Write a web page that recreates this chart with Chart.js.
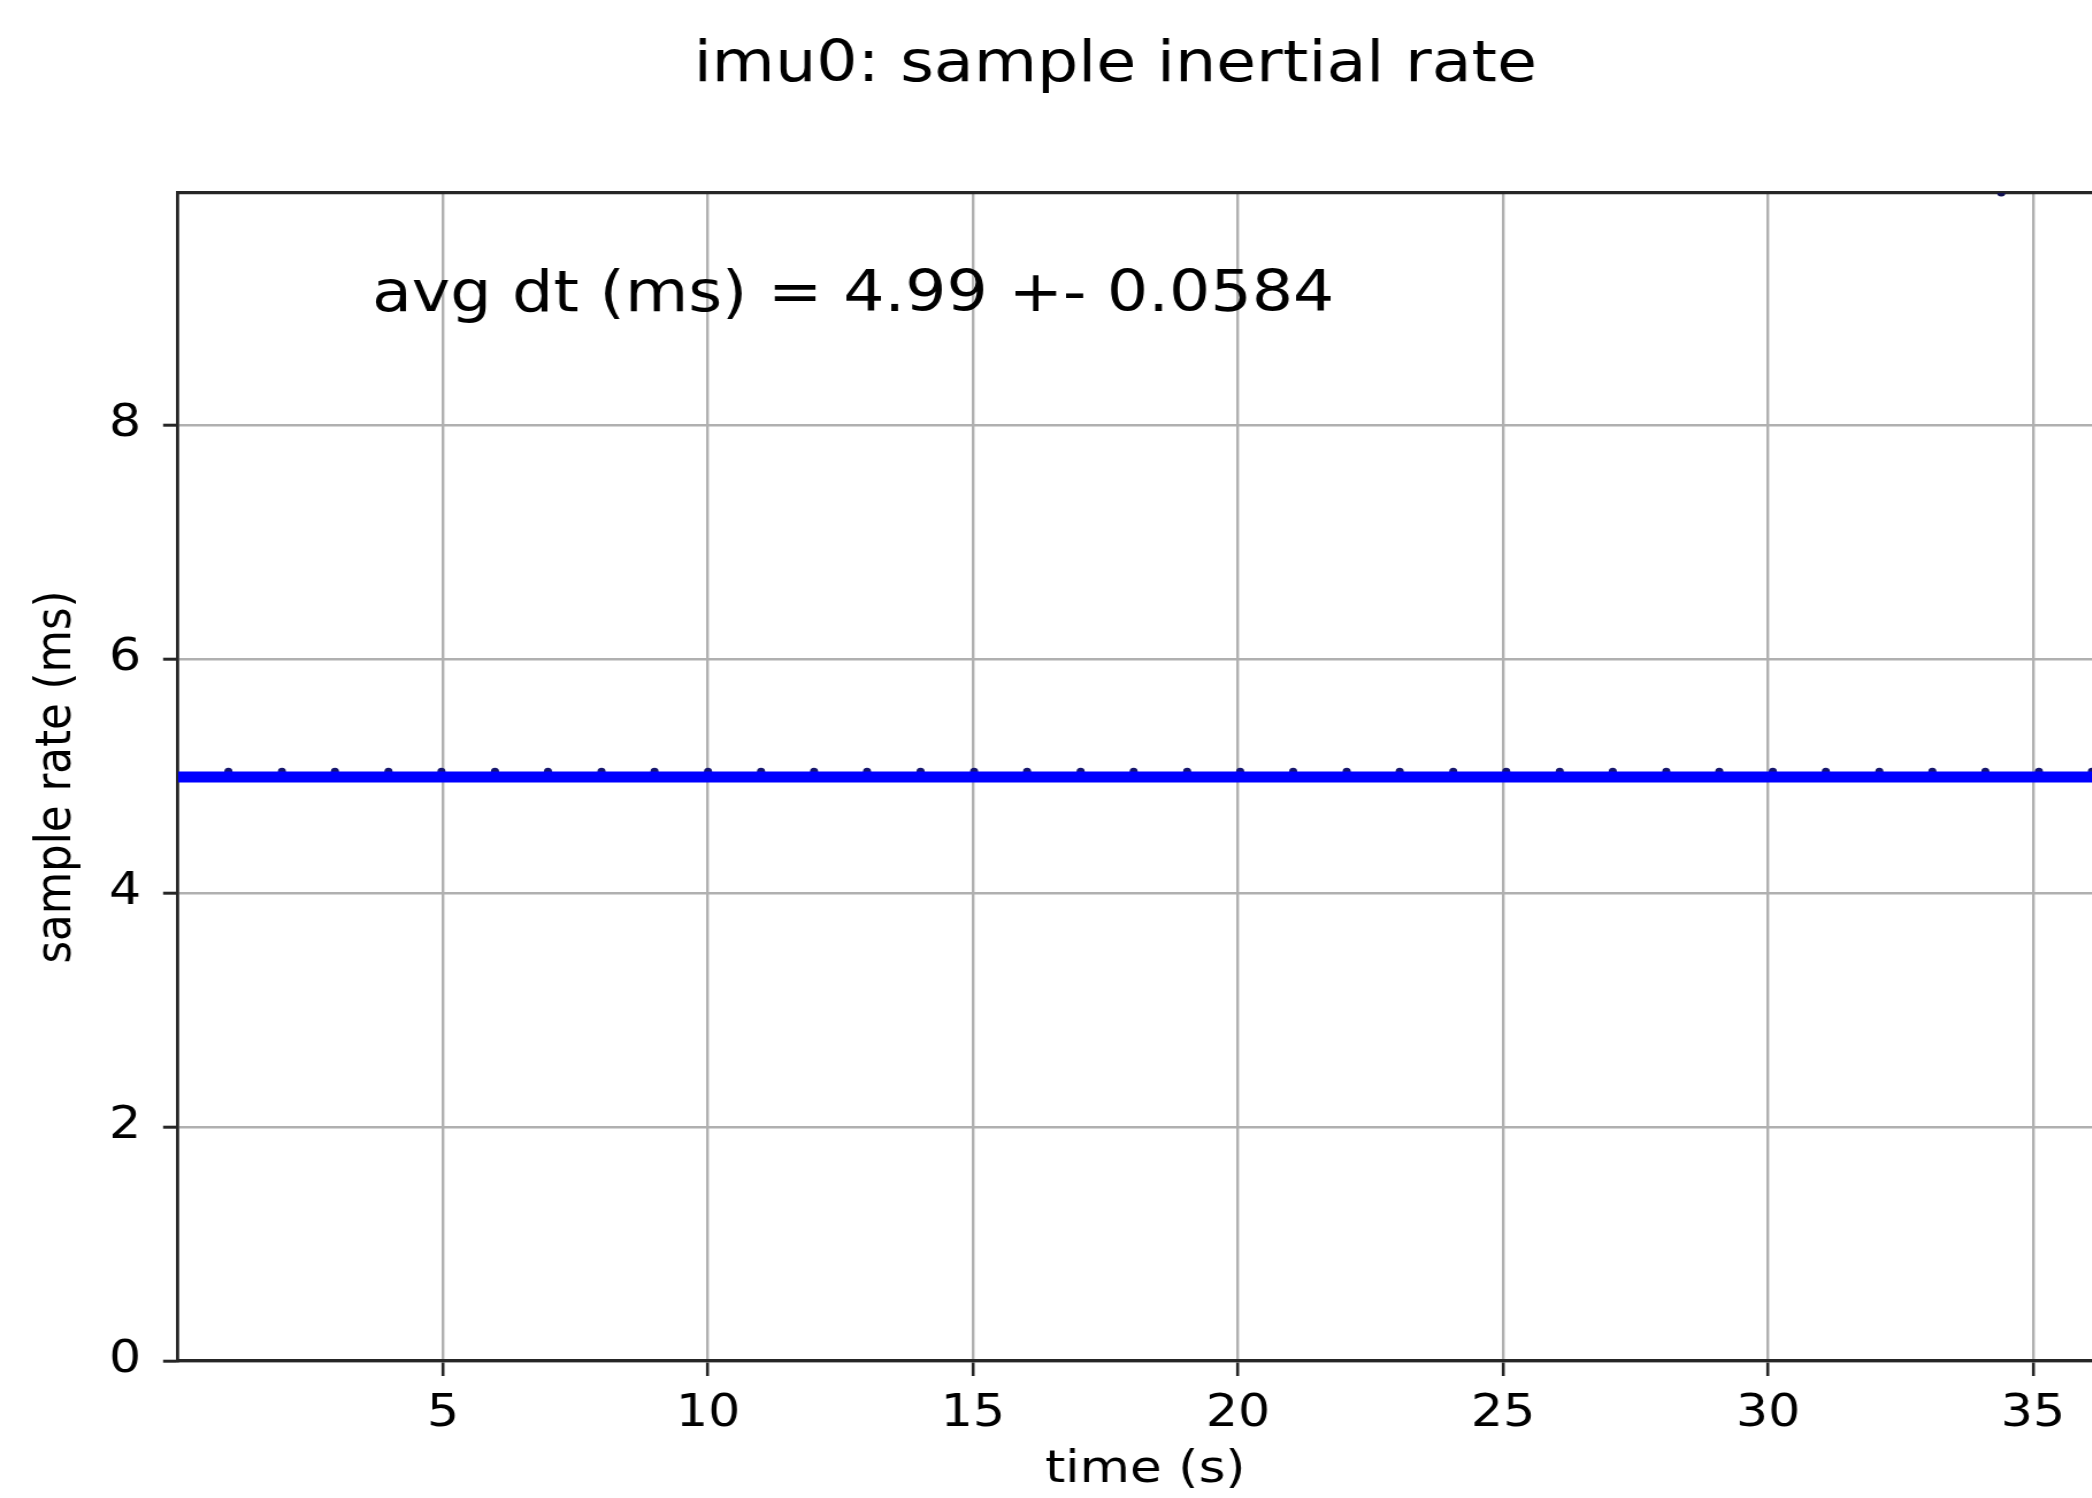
<!DOCTYPE html>
<html>
<head>
<meta charset="utf-8">
<title>imu0: sample inertial rate</title>
<script src="https://cdn.jsdelivr.net/npm/chart.js@4.4.0/dist/chart.umd.min.js"></script>
<style>
  html, body { margin: 0; padding: 0; background: #fff; overflow: hidden; }
  #wrap { width: 2092px; height: 1498px; overflow: hidden; }
  /* the source figure is stretched sideways, so the canvas is too */
  #myChart { display: block; transform: scaleX(1.15); transform-origin: 0 0; }
</style>
</head>
<body>
<div id="wrap"><canvas id="myChart" width="1939" height="1498"></canvas></div>
<script>
// dense 200 Hz samples, drawn as one thick line at the mean
var baseTime = [0.0, 36.5];
var baseRate = [4.99, 4.99];

// slightly longer dt once per second
var bumpTime = [0.95, 1.96, 2.96, 3.97, 4.97, 5.98, 6.98, 7.99, 8.99, 10.0,
                11.0, 12.0, 13.0, 14.01, 15.02, 16.02, 17.03, 18.03, 19.04, 20.04,
                21.04, 22.05, 23.05, 24.06, 25.06, 26.07, 27.07, 28.08, 29.08, 30.09,
                31.09, 32.1, 33.1, 34.1, 35.11, 36.11];
var bumpRate = [5.04, 5.04, 5.04, 5.04, 5.04, 5.04, 5.04, 5.04, 5.04, 5.04,
                5.04, 5.04, 5.04, 5.04, 5.04, 5.04, 5.04, 5.04, 5.04, 5.04,
                5.04, 5.04, 5.04, 5.04, 5.04, 5.04, 5.04, 5.04, 5.04, 5.04,
                5.04, 5.04, 5.04, 5.04, 5.04, 5.04];

// one dropped sample
var dropTime = [34.4];
var dropRate = [9.98];

var xTicks = [5, 10, 15, 20, 25, 30, 35];
var yTicks = [0, 2, 4, 6, 8];

var titleText = 'imu0: sample inertial rate';
var noteText = 'avg dt (ms) = 4.99 +- 0.0584';

function toPoints(xs, ys) {
    var pts = [];
    for (var i = 0; i < xs.length; i++) {
        pts.push({ x: xs[i], y: ys[i] });
    }
    return pts;
}

Chart.defaults.font.family = '"DejaVu Sans", sans-serif';
Chart.defaults.color = '#000';

var axisColor = '#262626';
var gridColor = '#b0b0b0';

// annotation inside the axes, placed in data units
var avgNote = {
    id: 'avgNote',
    afterDatasetsDraw: function(chart) {
        var ctx = chart.ctx;
        ctx.save();
        ctx.font = '56.5px "DejaVu Sans"';
        ctx.fillStyle = '#000';
        ctx.textBaseline = 'alphabetic';
        ctx.textAlign = 'left';
        ctx.fillText(noteText, chart.scales.x.getPixelForValue(3.66), chart.scales.y.getPixelForValue(8.97));
        ctx.restore();
    }
};

// figure title, centred over the (cropped) axes like matplotlib does
var figTitle = {
    id: 'figTitle',
    afterDraw: function(chart) {
        var ctx = chart.ctx;
        ctx.save();
        ctx.font = '56.5px "DejaVu Sans"';
        ctx.fillStyle = '#000';
        ctx.textBaseline = 'middle';
        ctx.textAlign = 'center';
        ctx.fillText(titleText, chart.chartArea.left + 815, 66);
        ctx.restore();
    }
};

var ctx = document.getElementById('myChart').getContext('2d');

var myChart = new Chart(ctx, {
    type: 'scatter',
    data: {
        datasets: [{
            label: 'dt',
            data: toPoints(baseTime, baseRate),
            showLine: true,
            borderColor: '#0000ff',
            borderWidth: 11,
            pointRadius: 0,
            fill: false
        },
        {
            label: 'dt bumps',
            data: toPoints(bumpTime, bumpRate),
            pointRadius: 3.5,
            pointBorderWidth: 0,
            backgroundColor: '#16166e'
        },
        {
            label: 'dropped',
            data: toPoints(dropTime, dropRate),
            pointRadius: 3.5,
            pointBorderWidth: 0,
            backgroundColor: '#101050'
        }]
    },
    options: {
        responsive: false,
        animation: false,
        events: [],
        layout: { padding: { left: 0, right: 102, top: 193, bottom: 0 } },
        plugins: {
            legend: { display: false },
            tooltip: { enabled: false },
            title: { display: false }
        },
        scales: {
            x: {
                type: 'linear',
                min: 0,
                max: 36.5,
                z: 1,
                afterBuildTicks: function(scale) {
                    scale.ticks = xTicks.map(function(v) { return { value: v }; });
                },
                afterFit: function(scale) { scale.height = 137; },
                grid: { color: gridColor, lineWidth: 2.4, tickColor: axisColor, tickLength: 15, tickWidth: 2.6 },
                border: { color: axisColor, width: 3.2 },
                ticks: { color: '#000', font: { size: 44 }, padding: 12, maxRotation: 0, autoSkip: false },
                title: {
                    display: true,
                    text: 'time (s)',
                    color: '#000',
                    font: { size: 45 },
                    padding: { top: 0, bottom: 1 }
                }
            },
            xTop: {
                type: 'linear',
                position: 'top',
                min: 0,
                max: 36.5,
                afterFit: function(scale) { scale.height = 0; },
                grid: { display: false, drawTicks: false },
                ticks: { display: false },
                border: { display: true, color: axisColor, width: 3.2 }
            },
            y: {
                min: 0,
                max: 9.98,
                afterBuildTicks: function(scale) {
                    scale.ticks = yTicks.map(function(v) { return { value: v }; });
                },
                afterFit: function(scale) { scale.width = 154.8; },
                grid: { color: gridColor, lineWidth: 2.4, tickColor: axisColor, tickLength: 13, tickWidth: 3 },
                border: { color: axisColor, width: 2.8 },
                ticks: { color: '#000', font: { size: 44 }, padding: 19 },
                title: {
                    display: true,
                    text: 'sample rate (ms)',
                    color: '#000',
                    font: { size: 43.5 },
                    padding: { top: 23.2, bottom: 0 }
                }
            }
        }
    },
    plugins: [avgNote, figTitle]
});
</script>
</body>
</html>
